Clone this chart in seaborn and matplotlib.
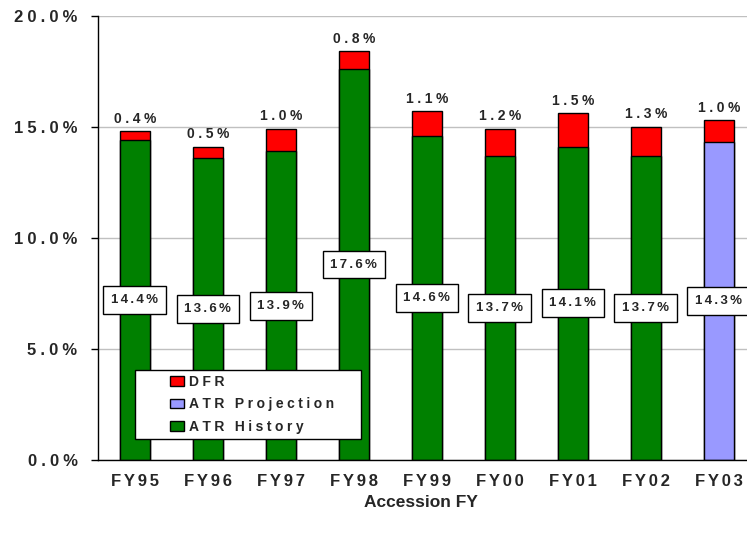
import matplotlib
matplotlib.use("Agg")
import matplotlib.pyplot as plt
from matplotlib.patches import Patch, Rectangle
import numpy as np
import pandas as pd
import seaborn as sns

# Accession fiscal years and attrition rates (%)
years = ["FY95", "FY96", "FY97", "FY98", "FY99", "FY00", "FY01", "FY02", "FY03"]
atr = [14.4, 13.6, 13.9, 17.6, 14.6, 13.7, 14.1, 13.7, 14.3]
dfr = [0.4, 0.5, 1.0, 0.8, 1.1, 1.2, 1.5, 1.3, 1.0]
kind = ["ATR History"] * 8 + ["ATR Projection"]
y_ticks = [0, 5, 10, 15, 20]

RED, LAV, GREEN = "#ff0000", "#9999ff", "#008000"

sns.set_style("white")
plt.rcParams["font.family"] = ["Liberation Sans", "DejaVu Sans"]
plt.rcParams["font.weight"] = "bold"


def spaced(s, gap="\u2005"):
    """Letter-spaced text, as in the original slide styling."""
    return (gap * 3).join(gap.join(w) for w in s.split(" "))


df = pd.DataFrame({"year": years, "atr": atr, "dfr": dfr, "kind": kind})
df["total"] = df["atr"] + df["dfr"]

fig = plt.figure(figsize=(7.47, 5.4), dpi=100)
ax = fig.add_axes([0.1317, 0.1481, 0.8795, 0.8228])
ax.set_axisbelow(True)
ax.yaxis.grid(True, color="#c0c0c0", lw=1)

BW = 0.42
# stacked: full height in red (DFR on top), ATR drawn over it
sns.barplot(data=df, x="year", y="total", color=RED, saturation=1, width=BW,
            edgecolor="black", linewidth=1, errorbar=None, ax=ax)
sns.barplot(data=df, x="year", y="atr", hue="kind",
            palette={"ATR History": GREEN, "ATR Projection": LAV},
            dodge=False, saturation=1, width=BW, edgecolor="black",
            linewidth=1, errorbar=None, legend=False, ax=ax)

for i, (a, d) in enumerate(zip(atr, dfr)):
    ax.annotate(spaced(f"{d:.1f}%"), (i, a + d), xytext=(0, 4),
                textcoords="offset points", ha="center", va="bottom",
                fontsize=10, fontweight="bold")
    ax.text(i, a / 2, spaced(f"{a:.1f}%", "\u2006"), ha="center", va="center",
            fontsize=9.5, fontweight="bold", zorder=6,
            bbox=dict(boxstyle="square,pad=0.6", fc="white", ec="black", lw=1))

ax.set_xlim(-0.5, 8.5)
ax.set_ylim(0, 20)
ax.set_xticks(range(len(years)))
ax.set_xticklabels([spaced(y, "\u2006") for y in years], fontweight="bold")
ax.set_xticks(np.arange(-0.5, len(years), 1), minor=True)
ax.tick_params(axis="x", which="major", length=0, pad=10, labelsize=12)
ax.tick_params(axis="x", which="minor", length=3.6, width=1, color="black",
               direction="out")
ax.set_yticks(y_ticks)
ax.set_yticklabels([spaced(f"{v:.1f}%") for v in y_ticks], fontweight="bold")
ax.tick_params(axis="y", length=5, width=1, color="black", direction="out",
               pad=10, labelsize=12, left=True)

for s in ("top", "right"):
    ax.spines[s].set_visible(False)
for s in ("left", "bottom"):
    ax.spines[s].set_color("black")
    ax.spines[s].set_linewidth(1)

ax.set_ylabel("")
ax.set_xlabel("Accession FY", fontsize=12.5, fontweight="bold", va="center")
ax.xaxis.set_label_coords((421 - 98.4) / 657, (460 - 502) / 444.3)

# legend frame and entries
ax.add_patch(Rectangle((0.0557, 0.0473), 0.344, 0.1553, transform=ax.transAxes,
                       fc="white", ec="black", lw=1, zorder=4))
handles = [Patch(fc=RED, ec="black", lw=1),
           Patch(fc=LAV, ec="black", lw=1),
           Patch(fc=GREEN, ec="black", lw=1)]
labels = [spaced("DFR"), spaced("ATR Projection"), spaced("ATR History")]
leg = ax.legend(handles, labels, loc="upper left",
                bbox_to_anchor=(0.109, 0.191), frameon=False, borderpad=0,
                borderaxespad=0, handlelength=1.0, handleheight=0.7,
                handletextpad=0.4, labelspacing=0.6,
                prop={"weight": "bold", "size": 10})
leg.set_zorder(5)

fig.savefig("out.png", dpi=100)
